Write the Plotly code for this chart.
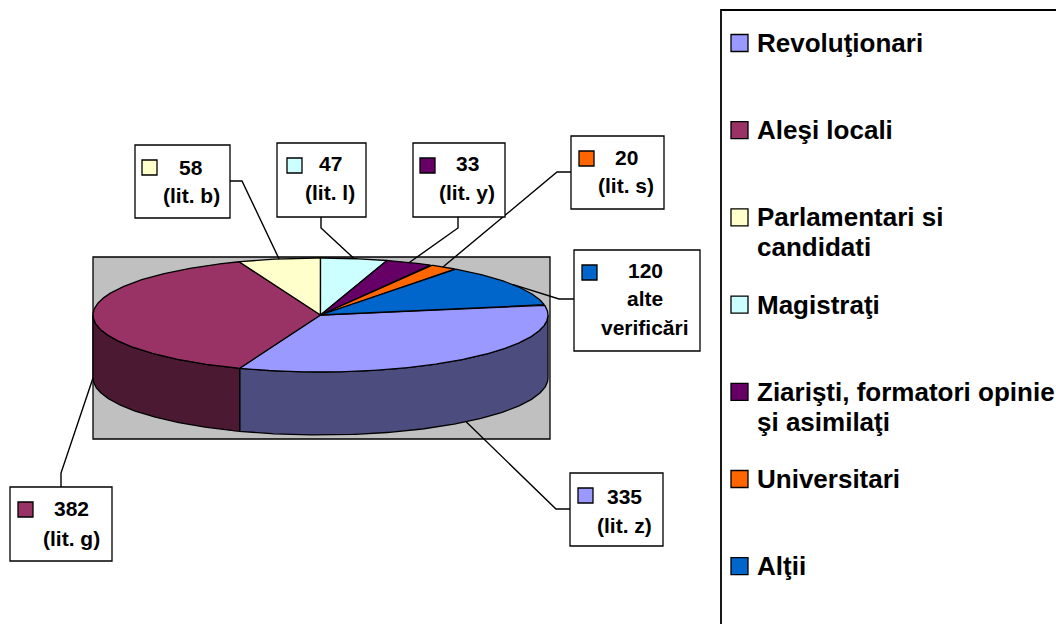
import numpy as np
import plotly.graph_objects as go

# ---------------- data ----------------
categories = ["Revoluţionari", "Aleşi locali", "Parlamentari si<br>candidati", "Magistraţi",
              "Ziarişti, formatori opinie<br>şi asimilaţi", "Universitari", "Alţii"]
values = [335, 382, 58, 47, 33, 20, 120]
label_notes = ["(lit. z)", "(lit. g)", "(lit. b)", "(lit. l)", "(lit. y)", "(lit. s)", "alte<br>verificări"]
colors = ["#9999FF", "#993366", "#FFFFCC", "#CCFFFF", "#660066", "#FF6600", "#0066CC"]
side_colors = ["#4C4C7F", "#4C1933", "#7F7F66", "#667F7F", "#330033", "#7F3300", "#003366"]

# ---------------- style / geometry ----------------
W, H = 1056, 624
CX, CY, RX, RY, DEPTH = 320.5, 315.0, 227.5, 57.0, 63.0
START = 79.6          # first slice angle (deg, clockwise from 12 o'clock)
FONT = "Liberation Sans, Arial, sans-serif"

# label boxes: (x0, y0, x1, y1), square (x0, y0), text center x, line center ys,
# leader anchor on box, leader elbow
label_style = [
    dict(box=(570, 473, 663, 546), sq=(578, 488), tx=624, ty=(496, 525), a=(570, 509), e=(556, 509)),
    dict(box=(10, 487, 112, 561), sq=(18, 502), tx=71, ty=(508, 538), a=(61, 487), e=(61, 473)),
    dict(box=(135, 145, 230, 218), sq=(142, 160), tx=191, ty=(167, 195), a=(230, 181), e=(242, 181)),
    dict(box=(277, 143, 366, 217), sq=(287, 158), tx=330, ty=(163, 192), a=(321, 217), e=(321, 228)),
    dict(box=(413, 143, 505, 217), sq=(420, 158), tx=467, ty=(163, 192), a=(458, 217), e=(458, 228)),
    dict(box=(571, 136, 664, 209), sq=(579, 151), tx=626, ty=(157, 185), a=(571, 172), e=(557, 172)),
    dict(box=(574, 250, 700, 351), sq=(582, 265), tx=645, ty=(270, 298, 327), a=(574, 299), e=(559, 299)),
]
SQ = 15
LABEL_FS = 21


def pt(theta_deg, drop=0.0):
    t = np.radians(theta_deg)
    return CX + RX * np.sin(t), CY - RY * np.cos(t) + drop


fig = go.Figure()

total = float(sum(values))
angles = []
a = START
for v in values:
    b = a + v / total * 360.0
    angles.append((a, b))
    a = b

# side faces (visible front half: 90..270 deg)
for i, (a0, a1) in enumerate(angles):
    for off in (0.0, 360.0, -360.0):
        s0 = max(a0 - off, 90.0)
        s1 = min(a1 - off, 270.0)
        if s0 < s1:
            th = np.linspace(s0, s1, 200)
            xt, yt = pt(th)
            xb, yb = pt(th[::-1], DEPTH)
            xs = np.concatenate([xt, xb, xt[:1]])
            ys = np.concatenate([yt, yb, yt[:1]])
            fig.add_trace(go.Scatter(x=xs, y=ys, mode="lines", fill="toself",
                                     fillcolor=side_colors[i], line=dict(color="black", width=1.3),
                                     hoverinfo="skip", showlegend=False))

# top faces
for i, (a0, a1) in enumerate(angles):
    th = np.linspace(a0, a1, max(int((a1 - a0) * 3), 4))
    xa, ya = pt(th)
    xs = np.concatenate([[CX], xa, [CX]])
    ys = np.concatenate([[CY], ya, [CY]])
    fig.add_trace(go.Scatter(x=xs, y=ys, mode="lines", fill="toself",
                             fillcolor=colors[i], line=dict(color="black", width=1.3),
                             name=categories[i], hoverinfo="skip", showlegend=False))

shapes = []
annotations = []

# plot area
shapes.append(dict(type="rect", x0=93, y0=257, x1=550, y1=439, xref="x", yref="y",
                   fillcolor="#C0C0C0", line=dict(color="black", width=1.3), layer="below"))

# leader lines + label boxes
for i, (a0, a1) in enumerate(angles):
    st = label_style[i]
    mid = ((a0 + a1) / 2.0) % 360.0
    drop = DEPTH if 90.0 < mid < 270.0 else 0.0
    px, py = pt(mid, drop)
    fig.add_trace(go.Scatter(x=[st["a"][0], st["e"][0], px], y=[st["a"][1], st["e"][1], py],
                             mode="lines", line=dict(color="black", width=1.4),
                             hoverinfo="skip", showlegend=False))
    x0, y0, x1, y1 = st["box"]
    shapes.append(dict(type="rect", x0=x0, y0=y0, x1=x1, y1=y1, xref="x", yref="y",
                       fillcolor="white", line=dict(color="black", width=1.3), layer="above"))
    sx, sy = st["sq"]
    shapes.append(dict(type="rect", x0=sx, y0=sy, x1=sx + SQ, y1=sy + SQ, xref="x", yref="y",
                       fillcolor=colors[i], line=dict(color="black", width=1.3), layer="above"))
    lines = [str(values[i])] + label_notes[i].split("<br>")
    for txt, yy in zip(lines, st["ty"]):
        annotations.append(dict(x=st["tx"], y=yy, xref="x", yref="y",
                                text=txt, showarrow=False,
                                xanchor="center", yanchor="middle", align="center",
                                font=dict(family=FONT, size=LABEL_FS, color="black", weight="bold")))

# legend
LEG_BOX = (721, 10, 1090, 650)
LEG_SQ_X, LEG_SQ = 731, 17
LEG_TX = 755
LEG_Y0, LEG_DY, LEG_LINE = 43, 87.2, 30
LEG_FS = 26
shapes.append(dict(type="rect", x0=LEG_BOX[0], y0=LEG_BOX[1], x1=LEG_BOX[2], y1=LEG_BOX[3],
                   xref="x", yref="y", fillcolor="white", line=dict(color="black", width=1.8),
                   layer="below"))
for i, name in enumerate(categories):
    yc = LEG_Y0 + i * LEG_DY
    shapes.append(dict(type="rect", x0=LEG_SQ_X, y0=yc - LEG_SQ / 2, x1=LEG_SQ_X + LEG_SQ,
                       y1=yc + LEG_SQ / 2, xref="x", yref="y", fillcolor=colors[i],
                       line=dict(color="black", width=1.3), layer="above"))
    for j, part in enumerate(name.split("<br>")):
        annotations.append(dict(x=LEG_TX, y=yc + j * LEG_LINE, xref="x", yref="y", text=part,
                                showarrow=False, xanchor="left", yanchor="middle", align="left",
                                font=dict(family=FONT, size=LEG_FS, color="black", weight="bold")))

fig.update_layout(
    width=W, height=H,
    margin=dict(l=0, r=0, t=0, b=0),
    paper_bgcolor="white", plot_bgcolor="white",
    showlegend=False,
    xaxis=dict(range=[0, W], visible=False, fixedrange=True),
    yaxis=dict(range=[H, 0], visible=False, fixedrange=True),
    shapes=shapes, annotations=annotations,
)

fig.write_html("out.html", config={"displayModeBar": False},
               post_script="document.body.style.margin='0';document.body.style.overflow='hidden';")
